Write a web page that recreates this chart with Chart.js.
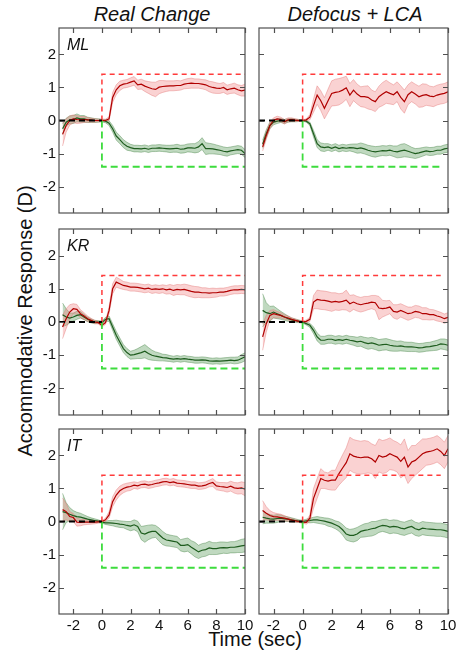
<!DOCTYPE html>
<html>
<head>
<meta charset="utf-8">
<title>Accommodative response</title>
<script src="https://cdn.jsdelivr.net/npm/chart.js@4.4.1/dist/chart.umd.min.js"></script>
<style>
  body { margin: 0; background: #fff; }
  #fig { position: relative; width: 458px; height: 659px; overflow: hidden;
         font-family: "Liberation Sans", Arial, sans-serif; color: #111; }
  #fig canvas { position: absolute; }
  .txt { position: absolute; white-space: nowrap; font-size: 20px; line-height: 20px; }
  .ttl { font-style: italic; transform: translateX(-50%); }
  .subj { position: absolute; font-style: italic; font-size: 16px; line-height: 16px; }
</style>
</head>
<body>
<div id="fig">
  <div class="txt ttl" style="left:152px; top:4px;">Real Change</div>
  <div class="txt ttl" style="left:355px; top:4px;">Defocus + LCA</div>
  <div class="txt" style="left:25px; top:321px; transform: translate(-50%, -50%) rotate(-90deg);">Accommodative Response (D)</div>
  <div class="txt" style="left:255px; top:629px; transform: translateX(-50%);">Time (sec)</div>
</div>
<script>
// time axis (s) and ticks
const time = [
  -2.75, -2.5, -2.25, -2, -1.75, -1.5, -1.25, -1, -0.75, -0.5, -0.25,
  0, 0.25, 0.5, 0.75, 1, 1.25, 1.5, 1.75, 2, 2.25, 2.5,
  2.75, 3, 3.25, 3.5, 3.75, 4, 4.25, 4.5, 4.75, 5,
  5.25, 5.5, 5.75, 6, 6.25, 6.5, 6.75, 7, 7.25, 7.5,
  7.75, 8, 8.25, 8.5, 8.75, 9, 9.25, 9.5, 9.75, 10
];
const xTicks = [-2, 0, 2, 4, 6, 8, 10];
const yTicks = [-2, -1, 0, 1, 2];
const subjects = ['ML', 'KR', 'IT'];
const conditions = ['Real Change', 'Defocus + LCA'];
const stepSize = 1.4;          // dioptres of the step stimulus
const stepEnd = [10, 9.5];     // end of the stimulus trace, per condition

// ML
const mlRealRed = [
  -0.42, -0.15, 0.0, 0.05, 0.03, 0.02, 0.03, 0.02, 0.01, 0.0, 0.0,
  0.0, 0.0, 0.05, 0.7, 0.93, 1.05, 1.1, 1.12, 1.16, 1.2, 1.08,
  1.1, 1.04, 1.0, 0.96, 0.94, 1.01, 1.03, 1.04, 1.05, 1.05,
  1.06, 1.06, 1.1, 1.12, 1.13, 1.12, 1.12, 1.1, 1.08, 1.03,
  1.0, 0.98, 0.97, 1.0, 0.93, 0.96, 0.98, 0.93, 0.9, 0.92
];
const mlRealRedSd = [
  0.35, 0.2, 0.14, 0.12, 0.12, 0.1, 0.09, 0.07, 0.06, 0.05, 0.04,
  0.03, 0.04, 0.06, 0.15, 0.15, 0.14, 0.12, 0.12, 0.13, 0.13, 0.14,
  0.15, 0.16, 0.18, 0.2, 0.22, 0.2, 0.18, 0.16, 0.15, 0.15,
  0.15, 0.14, 0.14, 0.15, 0.15, 0.14, 0.14, 0.14, 0.15, 0.16,
  0.17, 0.16, 0.15, 0.15, 0.14, 0.14, 0.15, 0.15, 0.16, 0.18
];
const mlRealGreen = [
  -0.25, -0.05, 0.02, 0.03, 0.08, 0.05, 0.05, 0.02, 0.01, 0.0, 0.0,
  0.0, -0.02, -0.08, -0.25, -0.47, -0.58, -0.7, -0.78, -0.82, -0.85, -0.85,
  -0.86, -0.84, -0.87, -0.84, -0.84, -0.83, -0.84, -0.85, -0.86, -0.85,
  -0.84, -0.87, -0.86, -0.83, -0.83, -0.84, -0.8, -0.7, -0.85, -0.85,
  -0.86, -0.88, -0.9, -0.93, -0.95, -0.92, -0.9, -0.88, -0.9, -1.0
];
const mlRealGreenSd = [
  0.15, 0.12, 0.12, 0.12, 0.12, 0.1, 0.1, 0.08, 0.07, 0.06, 0.05,
  0.04, 0.05, 0.07, 0.1, 0.12, 0.12, 0.12, 0.12, 0.1, 0.1, 0.1,
  0.1, 0.1, 0.1, 0.1, 0.1, 0.1, 0.1, 0.1, 0.11, 0.11,
  0.12, 0.12, 0.12, 0.12, 0.13, 0.14, 0.16, 0.18, 0.18, 0.16,
  0.15, 0.14, 0.13, 0.13, 0.13, 0.12, 0.12, 0.12, 0.12, 0.12
];
const mlLcaRed = [
  -0.8, -0.45, -0.15, 0.0, 0.05, 0.03, -0.04, 0.02, 0.03, 0.01, 0.0,
  0.0, 0.02, 0.1, 0.45, 0.77, 0.6, 0.37, 0.6, 0.82, 0.85, 0.87,
  0.92, 0.99, 0.77, 0.92, 0.8, 0.72, 0.72, 0.7, 0.62, 0.57,
  0.72, 0.8, 0.87, 0.82, 0.78, 0.87, 0.7, 0.57, 0.78, 0.87,
  0.8, 0.72, 0.76, 0.78, 0.74, 0.72, 0.77, 0.8, 0.82, 0.87
];
const mlLcaRedSd = [
  0.12, 0.12, 0.1, 0.08, 0.08, 0.07, 0.07, 0.06, 0.05, 0.04, 0.03,
  0.02, 0.03, 0.08, 0.2, 0.28, 0.3, 0.32, 0.35, 0.38, 0.4, 0.4,
  0.38, 0.35, 0.35, 0.32, 0.3, 0.3, 0.32, 0.35, 0.3, 0.3,
  0.32, 0.35, 0.35, 0.32, 0.3, 0.3, 0.35, 0.35, 0.3, 0.3,
  0.3, 0.32, 0.35, 0.32, 0.3, 0.3, 0.3, 0.3, 0.3, 0.3
];
const mlLcaGreen = [
  -0.72, -0.4, -0.15, -0.05, -0.02, 0.0, -0.03, 0.0, 0.01, 0.0, 0.0,
  0.0, -0.02, -0.1, -0.4, -0.7, -0.8, -0.82, -0.8, -0.84, -0.8, -0.85,
  -0.82, -0.84, -0.82, -0.83, -0.85, -0.83, -0.86, -0.9, -0.93, -0.95,
  -0.93, -0.91, -0.92, -0.9, -0.93, -0.95, -0.92, -0.9, -0.93, -0.97,
  -1.0, -0.98, -0.95, -0.92, -0.94, -0.93, -0.9, -0.9, -0.86, -0.84
];
const mlLcaGreenSd = [
  0.12, 0.12, 0.1, 0.08, 0.07, 0.06, 0.06, 0.05, 0.05, 0.04, 0.03,
  0.02, 0.03, 0.05, 0.1, 0.12, 0.12, 0.12, 0.1, 0.1, 0.1, 0.1,
  0.1, 0.1, 0.1, 0.12, 0.14, 0.15, 0.15, 0.15, 0.16, 0.16,
  0.15, 0.15, 0.15, 0.15, 0.16, 0.18, 0.2, 0.2, 0.18, 0.16,
  0.15, 0.14, 0.13, 0.12, 0.12, 0.12, 0.12, 0.12, 0.12, 0.12
];

// KR
const krRealRed = [
  -0.15, 0.1, 0.3, 0.4, 0.38, 0.25, 0.18, 0.1, 0.05, 0.0, -0.02,
  -0.1, -0.02, 0.35, 1.0, 1.2, 1.15, 1.1, 1.08, 1.05, 1.05, 1.04,
  1.02, 1.0, 1.02, 0.98, 1.0, 0.98, 1.0, 0.97, 0.99, 0.95,
  0.98, 0.97, 0.98, 0.95, 0.92, 0.9, 0.9, 0.88, 0.88, 0.87,
  0.88, 0.88, 0.9, 0.9, 0.92, 0.95, 0.97, 0.97, 0.98, 0.97
];
const krRealRedSd = [
  0.35, 0.3, 0.22, 0.15, 0.15, 0.12, 0.1, 0.08, 0.06, 0.05, 0.04,
  0.05, 0.05, 0.1, 0.15, 0.15, 0.14, 0.12, 0.12, 0.12, 0.12, 0.12,
  0.12, 0.12, 0.12, 0.12, 0.12, 0.12, 0.12, 0.13, 0.14, 0.15,
  0.15, 0.15, 0.16, 0.17, 0.17, 0.17, 0.16, 0.15, 0.15, 0.14,
  0.14, 0.13, 0.12, 0.12, 0.12, 0.12, 0.12, 0.12, 0.12, 0.12
];
const krRealGreen = [
  0.22, 0.15, 0.12, 0.15, 0.2, 0.22, 0.15, 0.08, 0.03, 0.0, 0.0,
  -0.02, 0.08, 0.1, -0.15, -0.4, -0.6, -0.8, -0.92, -1.0, -0.98, -0.95,
  -0.92, -0.88, -0.95, -1.0, -1.03, -1.05, -1.07, -1.08, -1.1, -1.12,
  -1.1, -1.12, -1.1, -1.12, -1.13, -1.15, -1.15, -1.14, -1.15, -1.17,
  -1.18, -1.17, -1.18, -1.17, -1.16, -1.15, -1.16, -1.15, -1.1, -1.05
];
const krRealGreenSd = [
  0.35, 0.25, 0.15, 0.12, 0.12, 0.1, 0.08, 0.07, 0.06, 0.05, 0.04,
  0.05, 0.06, 0.08, 0.1, 0.12, 0.12, 0.12, 0.12, 0.12, 0.13, 0.15,
  0.18, 0.2, 0.18, 0.15, 0.13, 0.12, 0.1, 0.1, 0.09, 0.09,
  0.09, 0.09, 0.09, 0.09, 0.09, 0.09, 0.09, 0.09, 0.09, 0.09,
  0.09, 0.09, 0.09, 0.09, 0.09, 0.09, 0.1, 0.1, 0.12, 0.12
];
const krLcaRed = [
  -0.45, -0.05, 0.2, 0.25, 0.22, 0.2, 0.15, 0.12, 0.08, 0.05, 0.02,
  0.0, 0.02, 0.08, 0.6, 0.68, 0.66, 0.65, 0.63, 0.6, 0.62, 0.6,
  0.62, 0.66, 0.55, 0.6, 0.55, 0.52, 0.55, 0.57, 0.6, 0.58,
  0.42, 0.4, 0.42, 0.45, 0.32, 0.3, 0.35, 0.3, 0.25, 0.27,
  0.32, 0.3, 0.25, 0.25, 0.22, 0.22, 0.18, 0.15, 0.1, 0.14
];
const krLcaRedSd = [
  0.4, 0.25, 0.15, 0.12, 0.1, 0.08, 0.07, 0.06, 0.05, 0.04, 0.03,
  0.03, 0.04, 0.06, 0.2, 0.28, 0.28, 0.28, 0.28, 0.28, 0.26, 0.25,
  0.25, 0.3, 0.25, 0.22, 0.22, 0.22, 0.22, 0.2, 0.2, 0.22,
  0.35, 0.25, 0.22, 0.2, 0.2, 0.22, 0.2, 0.2, 0.2, 0.18,
  0.18, 0.18, 0.18, 0.18, 0.16, 0.15, 0.15, 0.14, 0.14, 0.14
];
const krLcaGreen = [
  0.35, 0.28, 0.25, 0.3, 0.25, 0.2, 0.15, 0.1, 0.06, 0.04, 0.02,
  0.0, -0.05, -0.1, -0.25, -0.45, -0.55, -0.55, -0.52, -0.52, -0.55, -0.53,
  -0.55, -0.52, -0.55, -0.57, -0.6, -0.58, -0.62, -0.65, -0.63, -0.66,
  -0.7, -0.68, -0.67, -0.7, -0.72, -0.73, -0.72, -0.74, -0.75, -0.75,
  -0.76, -0.78, -0.77, -0.75, -0.74, -0.72, -0.7, -0.66, -0.67, -0.7
];
const krLcaGreenSd = [
  0.5, 0.3, 0.22, 0.18, 0.15, 0.12, 0.1, 0.08, 0.06, 0.05, 0.04,
  0.03, 0.04, 0.06, 0.1, 0.12, 0.12, 0.12, 0.12, 0.12, 0.12, 0.12,
  0.12, 0.12, 0.12, 0.13, 0.14, 0.15, 0.16, 0.17, 0.17, 0.17,
  0.17, 0.17, 0.17, 0.17, 0.16, 0.15, 0.15, 0.14, 0.14, 0.14,
  0.13, 0.13, 0.13, 0.13, 0.13, 0.14, 0.15, 0.15, 0.16, 0.16
];

// IT
const itRealRed = [
  0.36, 0.3, 0.15, 0.12, -0.02, -0.03, -0.02, -0.02, -0.02, -0.02, -0.01,
  0.0, 0.05, 0.2, 0.6, 0.8, 0.93, 1.0, 1.04, 1.06, 1.1, 1.08,
  1.12, 1.13, 1.1, 1.12, 1.15, 1.17, 1.2, 1.21, 1.18, 1.2,
  1.16, 1.15, 1.14, 1.12, 1.1, 1.1, 1.07, 1.08, 1.1, 1.15,
  1.18, 1.08, 1.06, 1.05, 1.03, 1.07, 1.02, 1.0, 1.02, 0.98
];
const itRealRedSd = [
  0.35, 0.25, 0.15, 0.12, 0.12, 0.1, 0.08, 0.07, 0.06, 0.05, 0.04,
  0.03, 0.05, 0.1, 0.15, 0.15, 0.14, 0.13, 0.12, 0.12, 0.1, 0.1,
  0.1, 0.1, 0.1, 0.1, 0.1, 0.1, 0.1, 0.1, 0.1, 0.1,
  0.1, 0.1, 0.1, 0.1, 0.1, 0.1, 0.1, 0.1, 0.1, 0.1,
  0.12, 0.12, 0.12, 0.13, 0.14, 0.15, 0.16, 0.17, 0.18, 0.2
];
const itRealGreen = [
  0.3, 0.27, 0.22, 0.18, 0.15, 0.13, 0.1, 0.07, 0.05, 0.03, 0.01,
  -0.02, -0.04, -0.04, -0.05, -0.06, -0.08, -0.09, -0.12, -0.14, -0.1, -0.15,
  -0.35, -0.38, -0.33, -0.3, -0.3, -0.4, -0.5, -0.56, -0.58, -0.6,
  -0.62, -0.72, -0.72, -0.7, -0.78, -0.85, -0.92, -0.87, -0.85, -0.8,
  -0.82, -0.82, -0.8, -0.79, -0.8, -0.78, -0.78, -0.76, -0.74, -0.72
];
const itRealGreenSd = [
  0.55, 0.3, 0.2, 0.15, 0.13, 0.12, 0.1, 0.08, 0.06, 0.05, 0.04,
  0.03, 0.05, 0.07, 0.08, 0.1, 0.1, 0.1, 0.12, 0.14, 0.15, 0.16,
  0.2, 0.25, 0.22, 0.2, 0.18, 0.2, 0.2, 0.18, 0.17, 0.17,
  0.17, 0.17, 0.2, 0.2, 0.2, 0.22, 0.2, 0.2, 0.2, 0.2,
  0.18, 0.18, 0.18, 0.17, 0.17, 0.17, 0.17, 0.18, 0.2, 0.2
];
const itLcaRed = [
  0.33, 0.25, 0.18, 0.15, 0.14, 0.12, 0.1, 0.07, 0.04, 0.02, 0.0,
  -0.02, -0.03, 0.1, 0.7, 1.0, 1.3, 1.25, 1.22, 1.25, 1.25, 1.45,
  1.62, 1.78, 2.05, 1.98, 1.95, 1.93, 1.95, 1.95, 1.9, 1.8,
  2.0, 1.95, 1.98, 2.05, 2.0, 1.95, 1.82, 1.95, 1.65, 1.8,
  1.85, 1.95, 2.05, 2.1, 2.12, 2.15, 2.2, 2.12, 2.0, 2.2
];
const itLcaRedSd = [
  0.3, 0.2, 0.15, 0.12, 0.1, 0.1, 0.08, 0.06, 0.05, 0.04, 0.03,
  0.03, 0.05, 0.1, 0.3, 0.3, 0.3, 0.25, 0.25, 0.3, 0.3, 0.35,
  0.4, 0.45, 0.5, 0.5, 0.5, 0.5, 0.5, 0.48, 0.45, 0.5,
  0.5, 0.5, 0.5, 0.48, 0.45, 0.45, 0.5, 0.55, 0.5, 0.5,
  0.45, 0.45, 0.45, 0.4, 0.4, 0.4, 0.4, 0.4, 0.4, 0.4
];
const itLcaGreen = [
  0.13, 0.1, 0.08, 0.07, 0.09, 0.1, 0.08, 0.07, 0.05, 0.03, 0.01,
  0.0, 0.02, 0.03, 0.05, 0.05, 0.03, 0.01, -0.02, -0.05, -0.1, -0.15,
  -0.25, -0.38, -0.42, -0.42, -0.38, -0.3, -0.27, -0.25, -0.22, -0.2,
  -0.15, -0.12, -0.13, -0.17, -0.15, -0.16, -0.2, -0.22, -0.18, -0.15,
  -0.22, -0.25, -0.2, -0.22, -0.23, -0.24, -0.25, -0.25, -0.27, -0.3
];
const itLcaGreenSd = [
  0.2, 0.15, 0.13, 0.12, 0.12, 0.1, 0.08, 0.07, 0.06, 0.05, 0.04,
  0.04, 0.05, 0.07, 0.08, 0.1, 0.1, 0.1, 0.12, 0.12, 0.12, 0.14,
  0.16, 0.18, 0.18, 0.2, 0.2, 0.18, 0.2, 0.2, 0.22, 0.2,
  0.18, 0.18, 0.2, 0.2, 0.2, 0.2, 0.2, 0.2, 0.2, 0.2,
  0.2, 0.2, 0.2, 0.2, 0.2, 0.2, 0.2, 0.2, 0.2, 0.2
];

// panel grid: [row][col] -> series
const panels = [
  [[mlRealRed, mlRealRedSd, mlRealGreen, mlRealGreenSd], [mlLcaRed, mlLcaRedSd, mlLcaGreen, mlLcaGreenSd]],
  [[krRealRed, krRealRedSd, krRealGreen, krRealGreenSd], [krLcaRed, krLcaRedSd, krLcaGreen, krLcaGreenSd]],
  [[itRealRed, itRealRedSd, itRealGreen, itRealGreenSd], [itLcaRed, itLcaRedSd, itLcaGreen, itLcaGreenSd]]
];

// layout of the plot areas in page pixels
const colLeft = [59, 259], colWidth = [186, 189];
const rowTop = [28, 229, 429], rowHeight = [185, 186, 185];

const FONT = '"Liberation Sans", Arial, sans-serif';
const RED = '#b00000', RED_BAND = 'rgba(240,125,125,0.35)', RED_EDGE = 'rgba(225,110,110,0.5)';
const GREEN = '#1e5c1e', GREEN_BAND = 'rgba(75,145,75,0.35)', GREEN_EDGE = 'rgba(60,125,60,0.5)';

const pts = (vals) => time.map((t, i) => ({ x: t, y: vals[i] }));

function band(mean, sd, edge, fill) {
  const upper = mean.map((m, i) => m + sd[i]);
  const lower = mean.map((m, i) => m - sd[i]);
  return [
    { data: pts(upper), borderColor: edge, borderWidth: 0.8, fill: false, order: 4 },
    { data: pts(lower), borderColor: edge, borderWidth: 0.8, backgroundColor: fill, fill: '-1', order: 4 }
  ];
}

// frame with inward ticks on all four sides
const framePlugin = {
  id: 'frame',
  afterDraw(chart) {
    const { ctx, chartArea: a } = chart;
    const x = chart.scales.x, y = chart.scales.y;
    ctx.save();
    ctx.strokeStyle = '#505050';
    ctx.lineWidth = 1.2;
    ctx.strokeRect(a.left, a.top, a.right - a.left, a.bottom - a.top);
    ctx.beginPath();
    xTicks.forEach(v => {
      const px = Math.round(x.getPixelForValue(v)) + 0.5;
      ctx.moveTo(px, a.bottom); ctx.lineTo(px, a.bottom - 5);
      ctx.moveTo(px, a.top); ctx.lineTo(px, a.top + 5);
    });
    yTicks.forEach(v => {
      const py = Math.round(y.getPixelForValue(v)) + 0.5;
      ctx.moveTo(a.left, py); ctx.lineTo(a.left + 5, py);
      ctx.moveTo(a.right, py); ctx.lineTo(a.right - 5, py);
    });
    ctx.stroke();
    ctx.restore();
  }
};

const fig = document.getElementById('fig');

panels.forEach((rowSeries, row) => {
  rowSeries.forEach(([red, redSd, green, greenSd], col) => {
    const padL = col === 0 ? colLeft[0] : 6;
    const padR = 12;
    const padT = 6;
    const padB = row === 2 ? 30 : 6;
    const canvas = document.createElement('canvas');
    const w = padL + colWidth[col] + padR, h = padT + rowHeight[row] + padB;
    canvas.width = w; canvas.height = h;
    canvas.style.left = (colLeft[col] - padL) + 'px';
    canvas.style.top = (rowTop[row] - padT) + 'px';
    canvas.style.width = w + 'px'; canvas.style.height = h + 'px';
    fig.appendChild(canvas);

    const end = stepEnd[col];
    const datasets = [
      ...band(red, redSd, RED_EDGE, RED_BAND),
      ...band(green, greenSd, GREEN_EDGE, GREEN_BAND),
      { data: pts(red), borderColor: RED, borderWidth: 1.2, order: 2 },
      { data: pts(green), borderColor: GREEN, borderWidth: 1.2, order: 2 },
      { data: [{ x: -3, y: 0 }, { x: 0, y: 0 }], borderColor: '#000', borderWidth: 2, borderDash: [6, 4], order: 1 },
      { data: [{ x: 0, y: 0 }, { x: 0, y: stepSize }, { x: end, y: stepSize }],
        borderColor: '#ff3b3b', borderWidth: 1.5, borderDash: [5, 4], order: 1 },
      { data: [{ x: 0, y: 0 }, { x: 0, y: -stepSize }, { x: end, y: -stepSize }],
        borderColor: '#3ddc3d', borderWidth: 1.8, borderDash: [7, 4], order: 1 }
    ];

    new Chart(canvas, {
      type: 'line',
      data: { datasets },
      options: {
        responsive: false,
        animation: false,
        events: [],
        layout: { padding: { top: padT, right: padR, left: 0, bottom: 0 } },
        elements: { point: { radius: 0 }, line: { tension: 0 } },
        plugins: { legend: { display: false }, tooltip: { enabled: false } },
        scales: {
          x: {
            type: 'linear', min: -3, max: 10,
            afterBuildTicks: s => { s.ticks = xTicks.map(v => ({ value: v })); },
            // fixed box size; labels never sit on the plot edges
            afterFit: s => { s.height = padB; s.paddingLeft = 0; s.paddingRight = 0; },
            grid: { display: false, drawTicks: false },
            border: { display: false },
            ticks: { display: row === 2, autoSkip: false, maxRotation: 0, padding: 3,
                     color: '#111', font: { family: FONT, size: 15 } }
          },
          y: {
            type: 'linear', min: -2.8, max: 2.8,
            afterBuildTicks: s => { s.ticks = yTicks.map(v => ({ value: v })); },
            afterFit: s => { s.width = padL; s.paddingTop = 0; s.paddingBottom = 0; },
            grid: { display: false, drawTicks: false },
            border: { display: false },
            ticks: { display: col === 0, padding: 3,
                     color: '#111', font: { family: FONT, size: 15 } }
          }
        }
      },
      plugins: [framePlugin]
    });

    if (col === 0) {
      const lab = document.createElement('div');
      lab.className = 'subj';
      lab.textContent = subjects[row];
      lab.style.left = '67px';
      lab.style.top = (rowTop[row] + 9) + 'px';
      fig.appendChild(lab);
    }
  });
});
</script>
</body>
</html>
